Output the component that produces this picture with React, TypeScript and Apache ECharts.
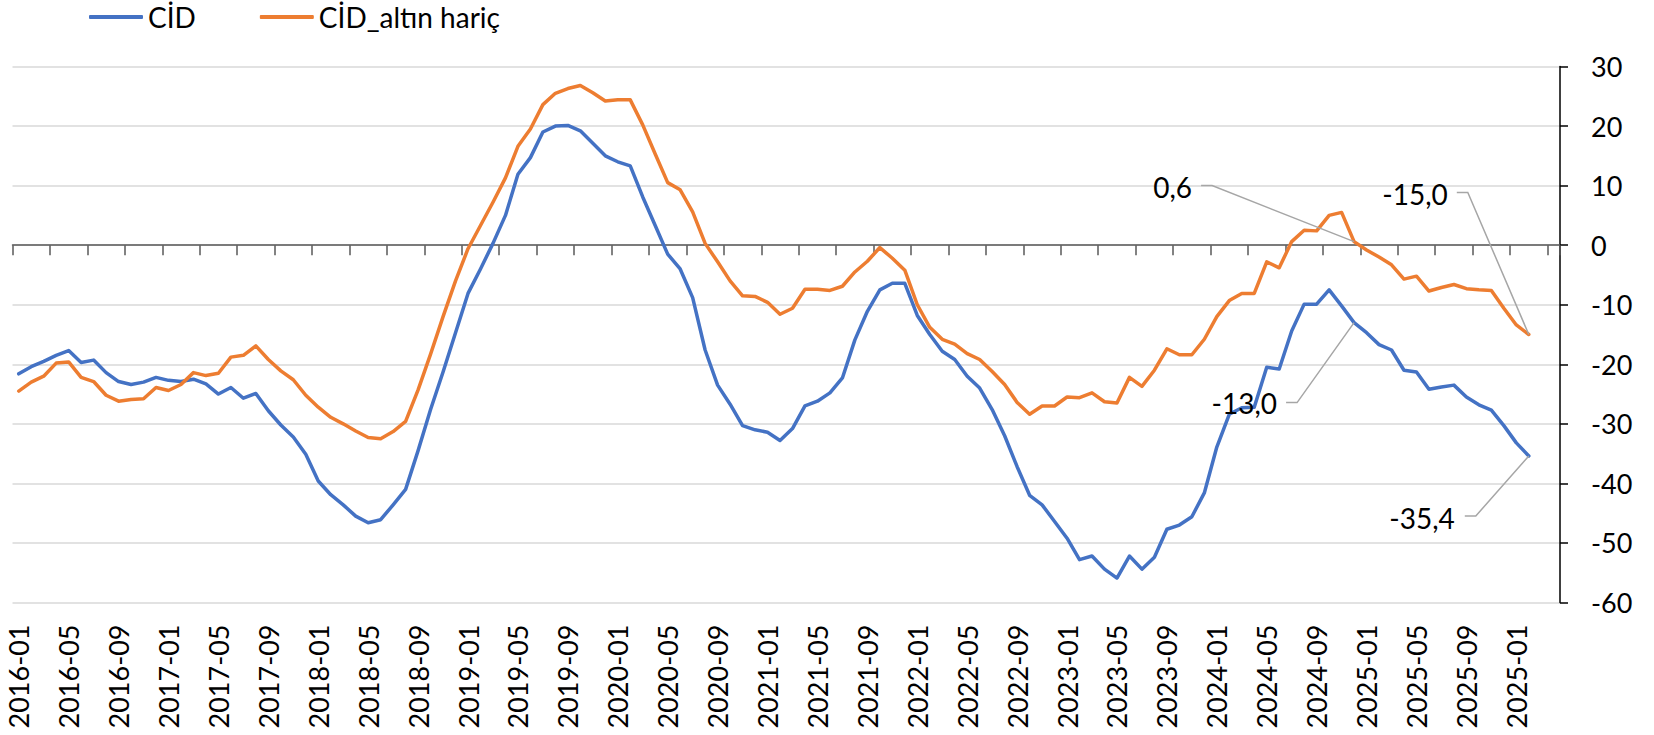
import React, { useEffect, useRef } from "react";
import * as echarts from "echarts";

// Category labels as printed on the reference axis (monthly, 2016-01 onwards;
// the source labels Jan 2026 as "2025-01"). Two trailing empty categories.
const months: string[] = (() => {
  const out: string[] = [];
  for (let k = 0; k < 124; k++) {
    const y = 2016 + Math.floor(k / 12);
    const m = (k % 12) + 1;
    out.push(`${y}-${m < 10 ? "0" + m : m}`);
  }
  out[120] = "2025-01";
  return out;
})();

const seriesNames = ["CİD", "CİD_altın hariç"];

const cid: number[] = [
  -21.6, -20.4, -19.5, -18.5, -17.7, -19.7, -19.3, -21.4, -22.9, -23.4, -23.0, -22.2,
  -22.7, -22.9, -22.5, -23.3, -25.0, -23.9, -25.7, -24.9, -27.8, -30.2, -32.2, -35.1,
  -39.6, -41.9, -43.6, -45.5, -46.6, -46.1, -43.6, -41.0, -34.5, -27.6, -21.3, -14.7,
  -8.1, -4.0, 0.3, 5.0, 11.9, 14.7, 19.0, 20.0, 20.1, 19.2, 17.1, 15.0,
  14.0, 13.3, 8.1, 3.3, -1.5, -4.0, -8.8, -17.6, -23.5, -26.7, -30.3, -31.0,
  -31.4, -32.8, -30.8, -27.0, -26.2, -24.8, -22.3, -15.9, -11.1, -7.5, -6.4, -6.4,
  -11.8, -15.0, -17.8, -19.2, -22.0, -24.0, -27.6, -32.0, -37.2, -42.0, -43.6, -46.4,
  -49.2, -52.8, -52.2, -54.4, -55.9, -52.2, -54.4, -52.4, -47.7, -47.0, -45.6, -41.6,
  -33.9, -28.4, -27.3, -27.2, -20.5, -20.8, -14.4, -9.9, -9.9, -7.5, -10.2, -13.0,
  -14.7, -16.7, -17.6, -21.0, -21.3, -24.2, -23.8, -23.5, -25.5, -26.8, -27.7, -30.3,
  -33.2, -35.4,
];

const cidExGold: number[] = [
  -24.5, -23.0, -22.0, -19.8, -19.6, -22.2, -22.9, -25.2, -26.2, -25.9, -25.8, -23.9,
  -24.4, -23.4, -21.4, -21.9, -21.5, -18.8, -18.5, -16.9, -19.2, -21.1, -22.6, -25.2,
  -27.2, -28.9, -30.0, -31.2, -32.3, -32.5, -31.3, -29.6, -24.3, -18.3, -12.0, -6.0,
  -0.6, 3.3, 7.2, 11.3, 16.6, 19.5, 23.6, 25.5, 26.3, 26.8, 25.6, 24.2,
  24.4, 24.4, 20.2, 15.3, 10.5, 9.3, 5.6, 0.3, -2.8, -6.0, -8.5, -8.6,
  -9.6, -11.6, -10.6, -7.4, -7.4, -7.6, -6.9, -4.5, -2.7, -0.4, -2.2, -4.2,
  -10.0, -13.8, -15.8, -16.6, -18.2, -19.2, -21.2, -23.4, -26.4, -28.4, -27.0, -27.0,
  -25.5, -25.6, -24.8, -26.3, -26.5, -22.2, -23.7, -21.0, -17.4, -18.4, -18.4, -15.8,
  -12.0, -9.3, -8.1, -8.1, -2.8, -3.8, 0.6, 2.5, 2.4, 5.0, 5.5, 0.6,
  -0.8, -2.0, -3.3, -5.7, -5.2, -7.7, -7.1, -6.6, -7.3, -7.5, -7.6, -10.6,
  -13.4, -15.0,
];

// Annotated points: which series and which month index
const annotatedPoints = [
  { series: 1, index: 107 },
  { series: 1, index: 121 },
  { series: 0, index: 107 },
  { series: 0, index: 121 },
];

// Layout offsets of the annotation labels / leader lines (pixels from the point)
const annotationLayout = [
  { dx: -162, dy: -55, elbow: [[-153, -56], [-142, -56]] },
  { dx: -81, dy: -141, elbow: [[-72, -142], [-61, -142]] },
  { dx: -77, dy: 80, elbow: [[-68, 80], [-57, 80]] },
  { dx: -74, dy: 62, elbow: [[-64, 60], [-53, 60]] },
];

const FONT = "Lato";
const BLUE = "#4472C4";
const ORANGE = "#ED7D31";

export default function App() {
  const ref = useRef<HTMLDivElement>(null);

  useEffect(() => {
    if (!ref.current) return;
    const chart = echarts.init(ref.current, undefined, { renderer: "svg" });
    const seriesData = [cid, cidExGold];

    chart.setOption({
      animation: false,
      backgroundColor: "#ffffff",
      textStyle: { fontFamily: FONT },
      legend: {
        left: 89,
        top: 3,
        padding: 0,
        icon: "roundRect",
        itemWidth: 54,
        itemHeight: 4,
        itemGap: 64,
        data: seriesNames,
        textStyle: { fontSize: 28, fontFamily: FONT, color: "#000", lineHeight: 28 },
      },
      grid: {
        left: 12.5,
        right: 94,
        top: 66.5,
        bottom: 132.5,
        containLabel: false,
        outerBoundsMode: "none",
      },
      xAxis: [
        {
          type: "category",
          data: months,
          boundaryGap: true,
          position: "bottom",
          axisLine: { show: false, onZero: false },
          axisTick: { show: false },
          axisLabel: {
            interval: 3,
            rotate: 90,
            margin: 22,
            fontSize: 27,
            fontFamily: FONT,
            color: "#000",
          },
          splitLine: { show: false },
        },
        {
          type: "category",
          data: months,
          boundaryGap: true,
          position: "bottom",
          axisLine: { show: true, onZero: true, lineStyle: { color: "#595959", width: 1.5 } },
          axisTick: { show: true, interval: 2, length: 10, lineStyle: { color: "#595959", width: 1.5 } },
          axisLabel: { show: false },
          splitLine: { show: false },
        },
      ],
      yAxis: {
        type: "value",
        position: "right",
        min: -60,
        max: 30,
        interval: 10,
        axisLine: { show: true, lineStyle: { color: "#000", width: 1.5 } },
        axisTick: { show: true, length: 8, lineStyle: { color: "#000", width: 1.5 } },
        axisLabel: { margin: 31, fontSize: 27, fontFamily: FONT, color: "#000" },
        splitLine: { show: true, lineStyle: { color: "#D9D9D9", width: 1.5 } },
      },
      series: [
        {
          name: seriesNames[0],
          type: "line",
          data: cid,
          xAxisIndex: 0,
          symbol: "none",
          lineStyle: { color: BLUE, width: 3.5, cap: "round", join: "round" },
          itemStyle: { color: BLUE },
        },
        {
          name: seriesNames[1],
          type: "line",
          data: cidExGold,
          xAxisIndex: 0,
          symbol: "none",
          lineStyle: { color: ORANGE, width: 3.5, cap: "round", join: "round" },
          itemStyle: { color: ORANGE },
        },
      ],
    });

    const graphics: any[] = [];
    annotatedPoints.forEach((a, k) => {
      const v = seriesData[a.series][a.index];
      const p = chart.convertToPixel({ xAxisIndex: 0, yAxisIndex: 0 }, [a.index, v]) as number[];
      const lay = annotationLayout[k];
      const text = v.toFixed(1).replace(".", ",");
      graphics.push({
        type: "polyline",
        z: 99,
        silent: true,
        shape: {
          points: [
            [p[0] + lay.elbow[0][0], p[1] + lay.elbow[0][1]],
            [p[0] + lay.elbow[1][0], p[1] + lay.elbow[1][1]],
            [p[0], p[1]],
          ],
        },
        style: { stroke: "#A6A6A6", lineWidth: 1.5, fill: null },
      });
      graphics.push({
        type: "text",
        z: 100,
        silent: true,
        x: p[0] + lay.dx,
        y: p[1] + lay.dy,
        style: {
          text,
          fontSize: 28,
          fontFamily: FONT,
          fill: "#000",
          align: "right",
          verticalAlign: "middle",
          textAlign: "right",
          textVerticalAlign: "middle",
        },
      });
    });
    chart.setOption({ graphic: graphics });

    return () => chart.dispose();
  }, []);

  return (
    <div
      ref={ref}
      style={{ position: "absolute", left: 0, top: 0, width: 1654, height: 735 }}
    />
  );
}
